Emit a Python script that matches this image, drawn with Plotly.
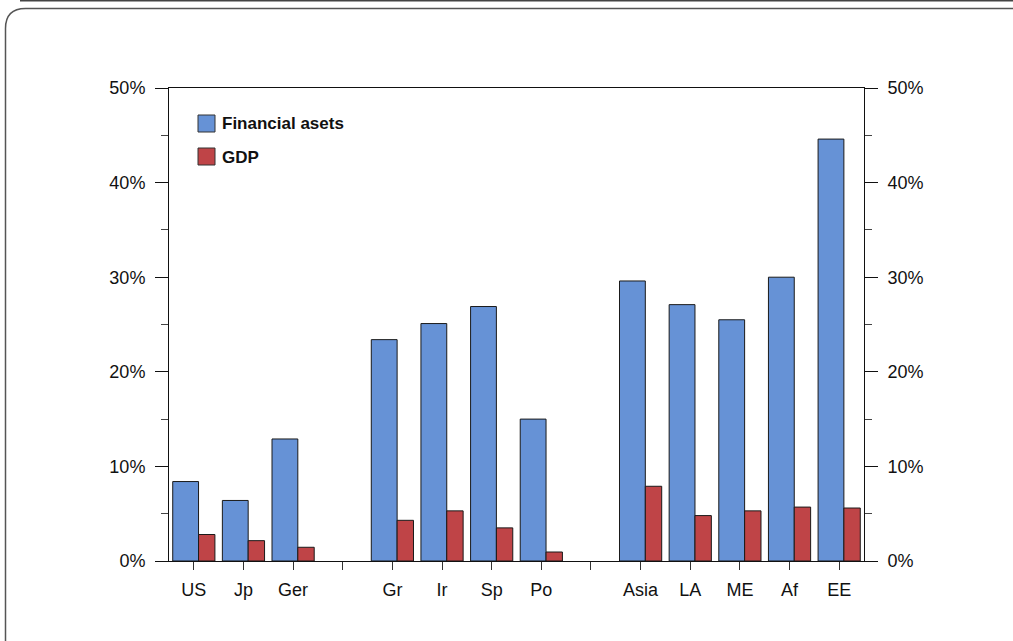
import plotly.graph_objects as go

categories = ["US", "Jp", "Ger", "", "Gr", "Ir", "Sp", "Po", "", "Asia", "LA", "ME", "Af", "EE"]
financial_assets = [8.4, 6.4, 12.9, None, 23.4, 25.1, 26.9, 15.0, None, 29.6, 27.1, 25.5, 30.0, 44.6]
gdp = [2.8, 2.15, 1.45, None, 4.3, 5.3, 3.5, 0.95, None, 7.9, 4.8, 5.3, 5.7, 5.6]
y_ticks = [0, 10, 20, 30, 40, 50]
y_ticktext = ["0%", "10%", "20%", "30%", "40%", "50%"]

BLUE = "#6692d6"
RED = "#bf4447"
EDGE = "#1a1a1a"
FONT = "Liberation Sans, Arial, Helvetica, sans-serif"

xpos = list(range(len(categories)))

fig = go.Figure()
fig.add_trace(go.Bar(x=xpos, y=financial_assets, offset=-0.425, width=0.52,
                     marker=dict(color=BLUE, line=dict(color=EDGE, width=1)),
                     name="Financial asets", showlegend=False))
fig.add_trace(go.Bar(x=xpos, y=gdp, offset=0.095, width=0.33,
                     marker=dict(color=RED, line=dict(color=EDGE, width=1)),
                     name="GDP", showlegend=False))
fig.add_trace(go.Scatter(x=[None], y=[None], yaxis="y2", showlegend=False, hoverinfo="skip"))

W, H = 1013, 641
L, R, T, B = 169, 864, 88, 561   # plot area in page pixels
pw, ph = R - L, B - T

def px(x):
    return (x - L) / pw

def py(y):
    return (B - y) / ph

axis_common = dict(range=[0, 50], tickvals=y_ticks, ticktext=y_ticktext,
                   showline=True, linecolor="#111", linewidth=1,
                   ticks="outside", ticklen=13, tickwidth=1, tickcolor="#111",
                   minor=dict(dtick=5, ticks="outside", ticklen=7, tickcolor="#444", tickwidth=1),
                   showgrid=False, zeroline=False,
                   tickfont=dict(family=FONT, size=18, color="#111"),
                   ticklabelstandoff=6)

fig.update_layout(
    width=W, height=H,
    margin=dict(l=L, r=W - R, t=T, b=H - B),
    paper_bgcolor="white", plot_bgcolor="white",
    barmode="overlay",
    xaxis=dict(range=[-0.5, len(categories) - 0.5], tickvals=xpos, ticktext=categories,
               showline=True, mirror=True, linecolor="#111", linewidth=1,
               ticks="outside", ticklen=8, tickcolor="#333", tickwidth=1,
               showgrid=False, zeroline=False,
               tickfont=dict(family=FONT, size=18, color="#111"),
               ticklabelstandoff=4),
    yaxis=dict(side="left", **axis_common),
    yaxis2=dict(side="right", overlaying="y", **axis_common),
    showlegend=False,
)

shapes = []
# legend swatches
for (y0, y1, col) in [(115, 132, BLUE), (148, 165, RED)]:
    shapes.append(dict(type="rect", xref="paper", yref="paper",
                       x0=px(198), x1=px(215), y0=py(y1), y1=py(y0),
                       fillcolor=col, line=dict(color="#333", width=1)))
# rounded outer frame
x0, y0 = px(5.5), py(8.5)
x1, y1 = px(1030), py(660)
rx, ry = 20 / pw, 20 / ph
path = (f"M {x0},{y1} L {x0},{y0 - ry} Q {x0},{y0} {x0 + rx},{y0} L {x1},{y0}")
shapes.append(dict(type="path", xref="paper", yref="paper", path=path,
                   line=dict(color="#555", width=1.5)))
shapes.append(dict(type="line", xref="paper", yref="paper",
                   x0=px(20), x1=px(1020), y0=py(0.7), y1=py(0.7),
                   line=dict(color="#444", width=1.5)))
fig.update_layout(shapes=shapes)

annotations = [
    dict(text="Financial asets", x=px(220), y=py(124), xref="paper", yref="paper",
         xanchor="left", yanchor="middle", showarrow=False,
         font=dict(family=FONT, size=17, color="#111", weight="bold")),
    dict(text="GDP", x=px(220), y=py(157), xref="paper", yref="paper",
         xanchor="left", yanchor="middle", showarrow=False,
         font=dict(family=FONT, size=17, color="#111", weight="bold")),
]
fig.update_layout(annotations=annotations)

fig.write_html("out.html", config={"displayModeBar": False},
               post_script="document.body.style.margin='0px';document.body.style.padding='0px';")
